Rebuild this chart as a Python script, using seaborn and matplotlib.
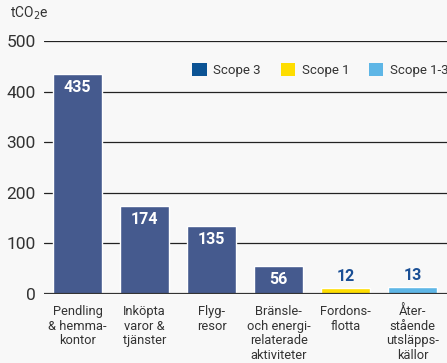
import matplotlib
matplotlib.use("Agg")
import matplotlib.pyplot as plt
import seaborn as sns
import pandas as pd
from matplotlib.patches import Patch

categories = ["Pendling\n& hemma-\nkontor", "Inköpta\nvaror &\ntjänster", "Flyg-\nresor",
              "Bränsle-\noch energi-\nrelaterade\naktiviteter", "Fordons-\nflotta",
              "Åter-\nstående\nutsläpps-\nkällor"]
values = [435, 174, 135, 56, 12, 13]
scopes = ["Scope 3", "Scope 3", "Scope 3", "Scope 3", "Scope 1", "Scope 1-3"]
legend_labels = ["Scope 3", "Scope 1", "Scope 1-3"]
y_ticks = [0, 100, 200, 300, 400, 500]

bar_colors = {"Scope 3": "#455a8e", "Scope 1": "#fedd00", "Scope 1-3": "#5eb6e6"}
legend_colors = {"Scope 3": "#0b5394", "Scope 1": "#fedd00", "Scope 1-3": "#5eb6e6"}
bg = "#f8f8f8"
text_col = "#333333"

sns.set_style("white")
plt.rcParams["font.family"] = ["Roboto", "DejaVu Sans"]

df = pd.DataFrame({"cat": categories, "val": values, "scope": scopes})

fig = plt.figure(figsize=(4.47, 3.63), dpi=100, facecolor=bg)
ax = fig.add_axes([0.0984, 0.19, 0.9016, 0.697])
ax.set_facecolor(bg)

sns.barplot(data=df, x="cat", y="val", hue="cat",
            palette=[bar_colors[s] for s in scopes], legend=False,
            width=0.73, saturation=1, ax=ax, zorder=3)

ax.set_xlim(-0.5, 5.51)
ax.set_ylim(0, 500)
ax.set_yticks(y_ticks)
ax.set_yticklabels([str(t) for t in y_ticks], fontsize=12.5, color=text_col)
ax.tick_params(axis="y", length=0, pad=6)
ax.tick_params(axis="x", length=0, pad=8)
ax.set_xticks(range(len(categories)))
ax.set_xticklabels(categories, fontsize=9.3, color=text_col, linespacing=1.15, va="top")
ax.set_xlabel("")
ax.set_ylabel("")

for t in y_ticks[1:]:
    ax.axhline(t, color="#222222", lw=0.9, zorder=1)
ax.axhline(0, color="#333333", lw=1.6, zorder=4)
for s in ax.spines.values():
    s.set_visible(False)

for i, v in enumerate(values):
    if v > 40:
        ax.text(i, v - 12, str(v), ha="center", va="top", color="white",
                fontsize=11.5, fontweight="bold", zorder=5)
    else:
        ax.text(i, v + 8, str(v), ha="center", va="bottom", color="#1a4f95",
                fontsize=11.5, fontweight="bold", zorder=5)

handles = [Patch(facecolor=legend_colors[l], edgecolor="none") for l in legend_labels]
leg = ax.legend(handles, legend_labels, loc="upper right", bbox_to_anchor=(1.03, 0.955),
                ncol=3, frameon=True, fontsize=9.5, handlelength=1.1, handleheight=1.1,
                handletextpad=0.5, columnspacing=1.5, borderpad=0.3)
leg.get_frame().set_facecolor(bg)
leg.get_frame().set_edgecolor("none")
leg.get_frame().set_alpha(1)
for txt in leg.get_texts():
    txt.set_color(text_col)

fig.text(0.022, 0.963, "tCO$_2$e", fontsize=10, color=text_col, va="center", ha="left")

fig.savefig("out.png", dpi=100, facecolor=bg)
